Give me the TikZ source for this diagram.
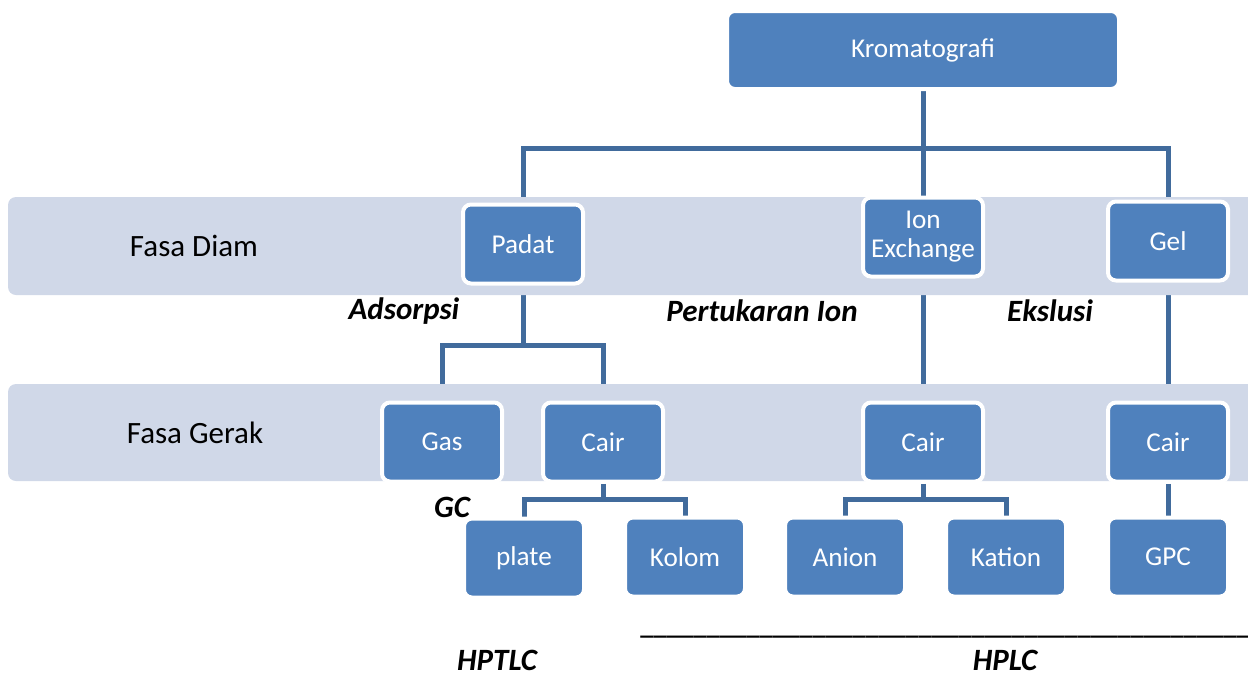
\documentclass[tikz,border=0pt]{standalone}
\usepackage{fontspec}
\setmainfont{Carlito}
\usetikzlibrary{backgrounds}
\definecolor{boxblue}{RGB}{79,129,189}
\definecolor{linkblue}{RGB}{65,107,156}
\definecolor{bandgrey}{RGB}{208,216,232}
\begin{document}
\begin{tikzpicture}[x=0.5pt,y=-0.5pt,
    box/.style={draw=white,line width=2pt,fill=boxblue,rounded corners=4pt,
        minimum width=60pt,minimum height=39.5pt,inner sep=2pt,align=center,
        text=white,font=\fontsize{13.6}{14.5}\selectfont},
    band/.style={fill=bandgrey,rounded corners=4pt},
    link/.style={draw=linkblue,line width=2.5pt},
    side/.style={font=\fontsize{15.5}{18}\selectfont},
    kind/.style={font=\fontsize{15.5}{18}\selectfont\bfseries\itshape}]
    \clip(0,0)rectangle(1248,675);
    % rows
    \fill[band](8,197)rectangle(1270,295);
    \fill[band](8,384)rectangle(1270,481);
    \node[side](diam)at(194,246){Fasa Diam};
    \node[side](gerak)at(195,433){Fasa Gerak};
    % boxes
    \node[box,minimum width=196pt,minimum height=39pt](krom)at(923,50){Kromatografi};
    \node[box](padat)at(523,244){Padat};
    \node[box](ion)at(923,237){Ion\\Exchange};
    \node[box](gel)at(1168,241){Gel};
    \node[box](gas)at(442,442){Gas};
    \node[box](cairA)at(603,442){Cair};
    \node[box](cairB)at(923,442){Cair};
    \node[box](cairC)at(1168,442){Cair};
    \node[box](plate)at(524,558){plate};
    \node[box](kolom)at(685,557){Kolom};
    \node[box](anion)at(845,557){Anion};
    \node[box](kation)at(1006,557){Kation};
    \node[box](gpc)at(1168,557){GPC};
    % labels
    \node[kind](ads)at(404,311){Adsorpsi};
    \node[kind](tukar)at(762,311){Pertukaran Ion};
    \node[kind](eks)at(1050,311){Ekslusi};
    \node[kind](gc)at(452,507){GC};
    \node[kind](hptlc)at(497,660){HPTLC};
    \node[kind](hplc)at(1005,660){HPLC};
    \node[font=\fontsize{13.3}{16}\selectfont\bfseries,inner sep=0pt,anchor=base west](garis)at(640,634)
        {\_\_\_\_\_\_\_\_\_\_\_\_\_\_\_\_\_\_\_\_\_\_\_\_\_\_\_\_\_\_\_\_\_\_\_\_\_\_\_\_\_\_\_\_\_\_};
    % links
    \coordinate(t1)at(923,148);
    \coordinate(t2)at(523,345);
    \coordinate(t3)at(603,499);
    \coordinate(t4)at(923,499);
    \begin{scope}[on background layer]
    \draw[link](krom.south)--(t1);
    \draw[link](padat.north)--(padat.north|-t1)--(gel.north|-t1)--(gel.north);
    \draw[link](t1)--(ion.north);
    \draw[link](padat.south)--(t2);
    \draw[link](gas.north)--(gas.north|-t2)--(cairA.north|-t2)--(cairA.north);
    \draw[link](ion.south)--(cairB.north);
    \draw[link](gel.south)--(cairC.north);
    \draw[link](cairA.south)--(t3);
    \draw[link](plate.north)--(plate.north|-t3)--(kolom.north|-t3)--(kolom.north);
    \draw[link](cairB.south)--(t4);
    \draw[link](anion.north)--(anion.north|-t4)--(kation.north|-t4)--(kation.north);
    \draw[link](cairC.south)--(gpc.north);
    \end{scope}
\end{tikzpicture}
\end{document}
